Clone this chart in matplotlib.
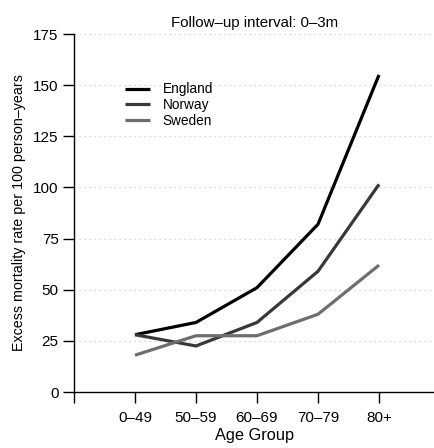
import matplotlib.pyplot as plt

plt.rcParams['font.family'] = ['Liberation Sans', 'DejaVu Sans']

age_groups = ["0\u201349", "50\u201359", "60\u201369", "70\u201379", "80+"]
england = [28, 34, 51, 82, 155]
norway = [28, 22.5, 34, 59, 101.5]
sweden = [18, 27.5, 27.5, 38, 62]

W, H = 435, 448
fig = plt.figure(figsize=(W / 100, H / 100), dpi=100)
left, right, top, bottom = 74, 435, 34, 392
ax = fig.add_axes([left / W, 1 - bottom / H, (right - left) / W, (bottom - top) / H])

x = list(range(1, len(age_groups) + 1))
ax.plot(x, england, color="#000000", lw=2.3, label="England", solid_capstyle="butt")
ax.plot(x, norway, color="#383838", lw=2.3, label="Norway", solid_capstyle="butt")
ax.plot(x, sweden, color="#6e6e6e", lw=2.3, label="Sweden", solid_capstyle="butt")

for yv in range(25, 176, 25):
    ax.axhline(yv, color="#c8c8c8", lw=0.9, ls=(0, (1, 3)), zorder=0)

ax.set_xlim(0, (right - left) / 61.0)
ax.set_ylim(0, 175)
ax.set_xticks([0] + x)
ax.set_xticklabels([""] + age_groups)
ax.set_yticks(range(0, 176, 25))
ax.tick_params(axis="both", direction="out", length=8, width=1, labelsize=11, pad=3)
ax.tick_params(axis="x", pad=6)

for s in ["top", "right"]:
    ax.spines[s].set_visible(False)
ax.spines["left"].set_linewidth(1)
ax.spines["bottom"].set_linewidth(1)

ax.set_title("Follow\u2013up interval: 0\u20133m", fontsize=10.8, pad=5)
ax.set_xlabel("Age Group", fontsize=11.8, labelpad=2)
ax.set_ylabel("Excess mortality rate per 100 person\u2013years", fontsize=10.3, labelpad=5)

ax.legend(loc="upper left", bbox_to_anchor=(0.125, 0.88), frameon=False, fontsize=9.8,
          handlelength=1.9, handletextpad=0.9, labelspacing=0.12, borderaxespad=0)

fig.savefig("out.png", dpi=100)
